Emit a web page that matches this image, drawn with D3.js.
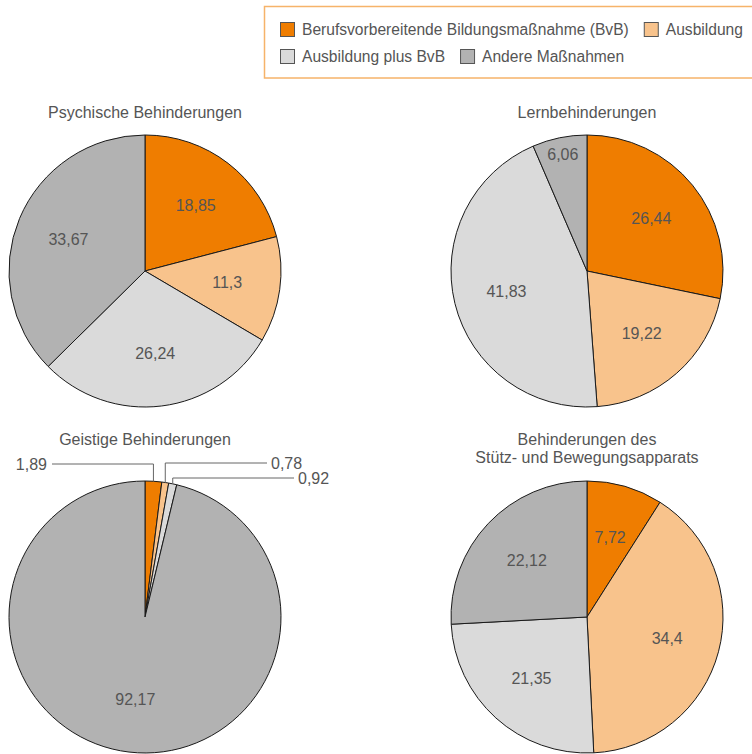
<!DOCTYPE html>
<html>
<head>
<meta charset="utf-8">
<script src="https://cdn.jsdelivr.net/npm/d3@7"></script>
<style>
  body { margin: 0; background: #fff; }
  text { font-family: "Liberation Sans", Helvetica, Arial, sans-serif; fill: #555; }
</style>
</head>
<body>
<script>
// DATA

const categories = ["Berufsvorbereitende Bildungsmaßnahme (BvB)", "Ausbildung", "Ausbildung plus BvB", "Andere Maßnahmen"];
const colors = ["#EF7D00", "#F8C38C", "#DADADA", "#B2B2B2"];

const psychisch = [18.85, 11.3, 26.24, 33.67];
const lern = [26.44, 19.22, 41.83, 6.06];
const geistig = [1.89, 0.78, 0.92, 92.17];
const stuetz = [7.72, 34.4, 21.35, 22.12];

const titles = [
  ["Psychische Behinderungen"],
  ["Lernbehinderungen"],
  ["Geistige Behinderungen"],
  ["Behinderungen des", "Stütz- und Bewegungsapparats"]
];

// MAKE THE CHART

const W = 752;
const H = 754;
const R = 136;
const fs = 16;
const legendFs = 15.6;

const svg = d3.select("body")
  .append("svg")
  .attr("width", W)
  .attr("height", H);

const fmt = v => String(v).replace(".", ",");

const pie = d3.pie().sort(null).value(d => d);
const arc = d3.arc().innerRadius(0).outerRadius(R);

const charts = [
  { values: psychisch, cx: 145, cy: 271, title: titles[0] },
  { values: lern, cx: 587, cy: 271, title: titles[1] },
  { values: geistig, cx: 145, cy: 617, title: titles[2] },
  { values: stuetz, cx: 587, cy: 617, title: titles[3] }
];

// where the leader lines of tiny slices end (geistige behinderungen)
const leaders = [
  { y: 464, x: 52, anchor: "end" },
  { y: 463, x: 267, anchor: "start" },
  { y: 478, x: 294, anchor: "start" }
];

charts.forEach(c => {
  const g = svg.append("g").attr("transform", `translate(${c.cx},${c.cy})`);
  const arcs = pie(c.values);

  g.selectAll("path")
    .data(arcs)
    .enter()
    .append("path")
    .attr("d", arc)
    .attr("fill", (d, i) => colors[i])
    .attr("stroke", "#1a1a1a")
    .attr("stroke-width", 1)
    .attr("stroke-linejoin", "round");

  let li = 0;
  arcs.forEach(a => {
    const span = a.endAngle - a.startAngle;
    const mid = (a.startAngle + a.endAngle) / 2;
    if (span < 0.2) {
      // tiny slice: label outside with a leader line
      const L = leaders[li++];
      const px = R * Math.sin(mid);
      const py = -R * Math.cos(mid);
      const ly = L.y - c.cy;
      const lx = L.x - c.cx;
      g.append("path")
        .attr("d", `M${px},${py}V${ly}H${lx}`)
        .attr("fill", "none")
        .attr("stroke", "#666")
        .attr("stroke-width", 1);
      g.append("text")
        .attr("x", L.anchor === "end" ? lx - 5 : lx + 4)
        .attr("y", ly)
        .attr("dy", "0.36em")
        .attr("text-anchor", L.anchor)
        .style("font-size", fs + "px")
        .text(fmt(a.data));
      return;
    }
    const lr = span < 0.5 ? R * 0.88 : R * 0.61;
    g.append("text")
      .attr("x", lr * Math.sin(mid))
      .attr("y", -lr * Math.cos(mid))
      .attr("dy", "0.36em")
      .attr("text-anchor", "middle")
      .style("font-size", fs + "px")
      .text(fmt(a.data));
  });

  c.title.forEach((t, i) => {
    svg.append("text")
      .attr("x", c.cx)
      .attr("y", (c.cy < 400 ? 118 : 445) + i * 18)
      .attr("text-anchor", "middle")
      .style("font-size", fs + "px")
      .text(t);
  });
});

// LEGEND

svg.append("rect")
  .attr("x", 264.5)
  .attr("y", 6.5)
  .attr("width", 600)
  .attr("height", 71.5)
  .attr("fill", "none")
  .attr("stroke", "#F6B36A")
  .attr("stroke-width", 1.5);

const rows = [[0, 1], [2, 3]];
rows.forEach((row, r) => {
  let x = 280;
  const y = 22 + r * 27;
  row.forEach(i => {
    svg.append("rect")
      .attr("x", x + 0.5)
      .attr("y", y + 0.5)
      .attr("width", 14)
      .attr("height", 14)
      .attr("fill", colors[i])
      .attr("stroke", "#555")
      .attr("stroke-width", 1);
    const t = svg.append("text")
      .attr("x", x + 22)
      .attr("y", y + 13)
      .style("font-size", legendFs + "px")
      .text(categories[i]);
    x += 22 + t.node().getComputedTextLength() + 15;
  });
});
</script>
</body>
</html>
